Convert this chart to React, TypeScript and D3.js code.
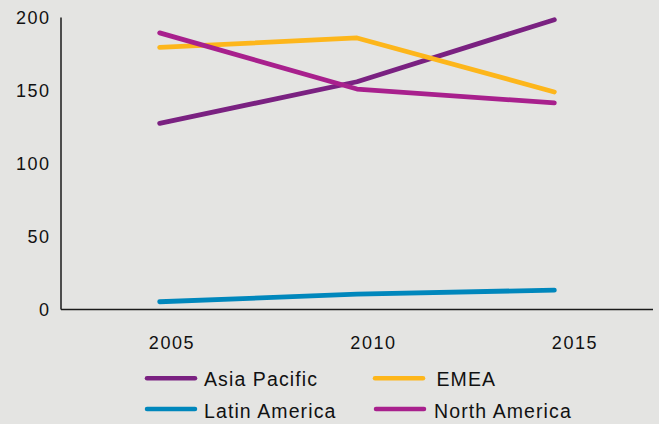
import React from "react";
import * as d3 from "d3";

const years = ["2005", "2010", "2015"];
const seriesNames = ["Asia Pacific", "EMEA", "Latin America", "North America"];
const asiaPacific = [127.5, 156, 198.5];
const emea = [179.5, 186, 149];
const latinAmerica = [5.3, 10.5, 13.3];
const northAmerica = [189.5, 151, 141.5];
const yTicks = [0, 50, 100, 150, 200];

const colors: Record<string, string> = {
  "Asia Pacific": "#7a2181",
  EMEA: "#fdb61b",
  "Latin America": "#0087bc",
  "North America": "#a8208d",
};

const values: Record<string, number[]> = {
  "Asia Pacific": asiaPacific,
  EMEA: emea,
  "Latin America": latinAmerica,
  "North America": northAmerica,
};

const W = 659;
const H = 424;
const left = 61;
const right = 653;
const top = 17.5;
const bottom = 309.5;

export default function App() {
  const x = d3.scaleBand<string>().domain(years).range([left, right]).padding(0);
  const xLabel = d3.scalePoint<string>().domain(years).range([172, 575]);
  const y = d3.scaleLinear().domain([0, 200]).range([bottom, top]);
  const line = d3
    .line<number>()
    .x((_, i) => (x(years[i]) as number) + x.bandwidth() / 2)
    .y((d) => y(d));

  const legend = [
    { name: "Asia Pacific", sx: 145, tx: 204, row: 0 },
    { name: "EMEA", sx: 373, tx: 436.5, row: 0 },
    { name: "Latin America", sx: 145, tx: 204, row: 1 },
    { name: "North America", sx: 374, tx: 434, row: 1 },
  ];
  const rowSwatchY = [378.3, 409];
  const rowTextY = [385.8, 417.6];
  const font = "'Liberation Sans', Arial, Helvetica, sans-serif";

  return (
    <div style={{ position: "fixed", left: 0, top: 0 }}>
      <svg width={W} height={H} style={{ display: "block" }}>
        <rect x={0} y={0} width={W} height={H} fill="#e4e4e2" />
        {yTicks.map((t) => (
          <text
            key={t}
            x={50.5}
            y={y(t) + 6.3}
            textAnchor="end"
            fontFamily={font}
            fontSize={18}
            letterSpacing={1.5}
            fill="#111"
          >
            {t}
          </text>
        ))}
        {years.map((yr) => (
          <text
            key={yr}
            x={xLabel(yr) as number}
            y={349}
            textAnchor="middle"
            fontFamily={font}
            fontSize={18}
            letterSpacing={1.6}
            fill="#111"
          >
            {yr}
          </text>
        ))}
        {seriesNames.map((n) => (
          <path
            key={n}
            d={line(values[n]) || ""}
            fill="none"
            stroke={colors[n]}
            strokeWidth={4.8}
            strokeLinecap="round"
            strokeLinejoin="round"
          />
        ))}
        <line x1={left} y1={top} x2={left} y2={bottom} stroke="#1a1a1a" strokeWidth={1.5} />
        <line x1={left} y1={bottom} x2={right} y2={bottom} stroke="#1a1a1a" strokeWidth={1.5} />
        {legend.map((l) => (
          <g key={l.name}>
            <line
              x1={l.sx + 2}
              x2={l.sx + 50}
              y1={rowSwatchY[l.row]}
              y2={rowSwatchY[l.row]}
              stroke={colors[l.name]}
              strokeWidth={4.5}
              strokeLinecap="round"
            />
            <text
              x={l.tx}
              y={rowTextY[l.row]}
              fontFamily={font}
              fontSize={19.5}
              letterSpacing={1.1}
              fill="#111"
            >
              {l.name}
            </text>
          </g>
        ))}
      </svg>
    </div>
  );
}
